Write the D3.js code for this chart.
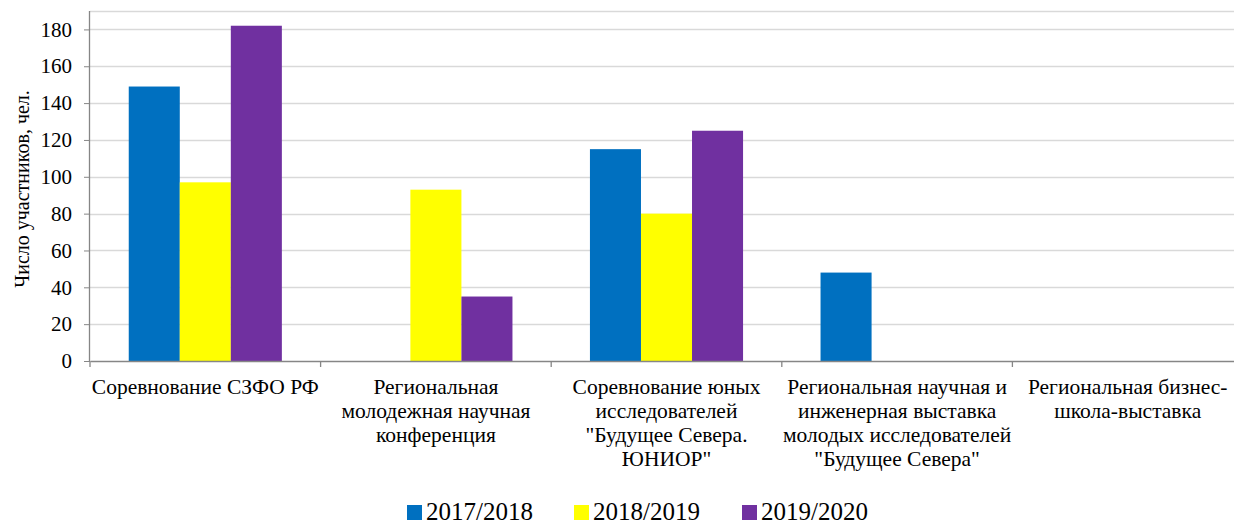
<!DOCTYPE html>
<html>
<head>
<meta charset="utf-8">
<script src="https://cdn.jsdelivr.net/npm/d3@7"></script>
<style>
  body { margin: 0; background: #fff; }
  svg { display: block; }
  text { font-family: "Liberation Serif"; }
</style>
</head>
<body>
<div id="chart"></div>
<script>
const width = 1234;
const height = 524;
const serif = 'Liberation Serif';

// data
const categories = [
  ['Соревнование СЗФО РФ'],
  ['Региональная', 'молодежная научная', 'конференция'],
  ['Соревнование юных', 'исследователей', '"Будущее Севера.', 'ЮНИОР"'],
  ['Региональная научная и', 'инженерная выставка', 'молодых исследователей', '"Будущее Севера"'],
  ['Региональная бизнес-', 'школа-выставка']
];
const seriesNames = ['2017/2018', '2018/2019', '2019/2020'];
const colors = ['#0070c0', '#ffff00', '#7030a0'];
const values2017 = [149, 0, 115, 48, 0];
const values2018 = [97, 93, 80, 0, 0];
const values2019 = [182, 35, 125, 0, 0];
const yTicks = [0, 20, 40, 60, 80, 100, 120, 140, 160, 180];

const seriesValues = [values2017, values2018, values2019];

const margin = { left: 90, top: 11, right: -9, bottom: 163 };
const plotW = width - margin.left - margin.right;
const plotH = height - margin.top - margin.bottom;

const svg = d3.select('#chart')
  .append('svg')
  .attr('width', width)
  .attr('height', height)
  .attr('font-family', serif);

const g = svg.append('g')
  .attr('transform', `translate(${margin.left},${margin.top})`);

const x0 = d3.scaleBand()
  .domain(d3.range(categories.length))
  .range([0, plotW])
  .padding(0);

const gap = x0.bandwidth() * 0.168;
const x1 = d3.scaleBand()
  .domain(d3.range(seriesNames.length))
  .range([gap, x0.bandwidth() - gap])
  .padding(0);

const y = d3.scaleLinear()
  .domain([0, 190])
  .range([plotH, 0]);

// gridlines
g.append('g')
  .selectAll('line')
  .data(yTicks.slice(1).concat([190]))
  .enter()
  .append('line')
  .attr('x1', 0)
  .attr('x2', plotW)
  .attr('y1', d => Math.round(y(d)) + 0.5)
  .attr('y2', d => Math.round(y(d)) + 0.5)
  .attr('stroke', '#d9d9d9')
  .attr('stroke-width', 1.5);

// bars
seriesValues.forEach((vals, s) => {
  const pts = vals.map((v, i) => ({ cat: i, value: v })).filter(d => d.value > 0);
  g.append('g')
    .selectAll('rect')
    .data(pts)
    .enter()
    .append('rect')
    .attr('x', d => x0(d.cat) + x1(s))
    .attr('y', d => y(d.value))
    .attr('width', x1.bandwidth())
    .attr('height', d => plotH - y(d.value))
    .attr('fill', colors[s]);
});

// y axis
const yAxis = d3.axisLeft(y)
  .tickValues(yTicks)
  .tickSize(6)
  .tickPadding(12);

const yG = g.append('g').call(yAxis).attr('font-family', serif);
yG.select('.domain').attr('stroke', '#868686').attr('stroke-width', 1.3)
  .attr('d', `M-0.5,0V${plotH}`);
yG.selectAll('.tick line').attr('stroke', '#868686');
yG.selectAll('.tick text')
  .attr('font-size', 21)
  .attr('fill', '#000');

// x axis
const xAxis = d3.axisBottom(x0)
  .tickSize(0)
  .tickFormat('');
const xG = g.append('g')
  .attr('transform', `translate(0,${plotH})`)
  .call(xAxis);
xG.select('.domain').attr('stroke', '#868686').attr('stroke-width', 1.3);

g.append('g')
  .selectAll('line')
  .data(d3.range(categories.length + 1))
  .enter()
  .append('line')
  .attr('x1', d => d * x0.step())
  .attr('x2', d => d * x0.step())
  .attr('y1', plotH)
  .attr('y2', plotH + 6)
  .attr('stroke', '#868686')
  .attr('stroke-width', 1.3);

// category labels
const labels = g.append('g')
  .selectAll('text')
  .data(categories)
  .enter()
  .append('text')
  .attr('text-anchor', 'middle')
  .attr('font-size', 21.5)
  .attr('fill', '#000')
  .attr('transform', (d, i) => `translate(${x0(i) + x0.bandwidth() / 2},${plotH + 33})`);

labels.selectAll('tspan')
  .data(d => d)
  .enter()
  .append('tspan')
  .attr('x', 0)
  .attr('dy', (d, i) => i === 0 ? 0 : 24)
  .text(d => d);

// y title
svg.append('text')
  .attr('transform', 'translate(29,189) rotate(-90)')
  .attr('text-anchor', 'middle')
  .attr('font-size', 20)
  .attr('fill', '#000')
  .text('Число участников, чел.');

// legend
const legendX = [407, 574, 742];
const legend = svg.append('g')
  .selectAll('g')
  .data(seriesNames)
  .enter()
  .append('g')
  .attr('transform', (d, i) => `translate(${legendX[i]},505)`);

legend.append('rect')
  .attr('width', 15)
  .attr('height', 15)
  .attr('fill', (d, i) => colors[i]);

legend.append('text')
  .attr('x', 19)
  .attr('y', 15)
  .attr('font-size', 25)
  .attr('fill', '#000')
  .text(d => d);
</script>
</body>
</html>
